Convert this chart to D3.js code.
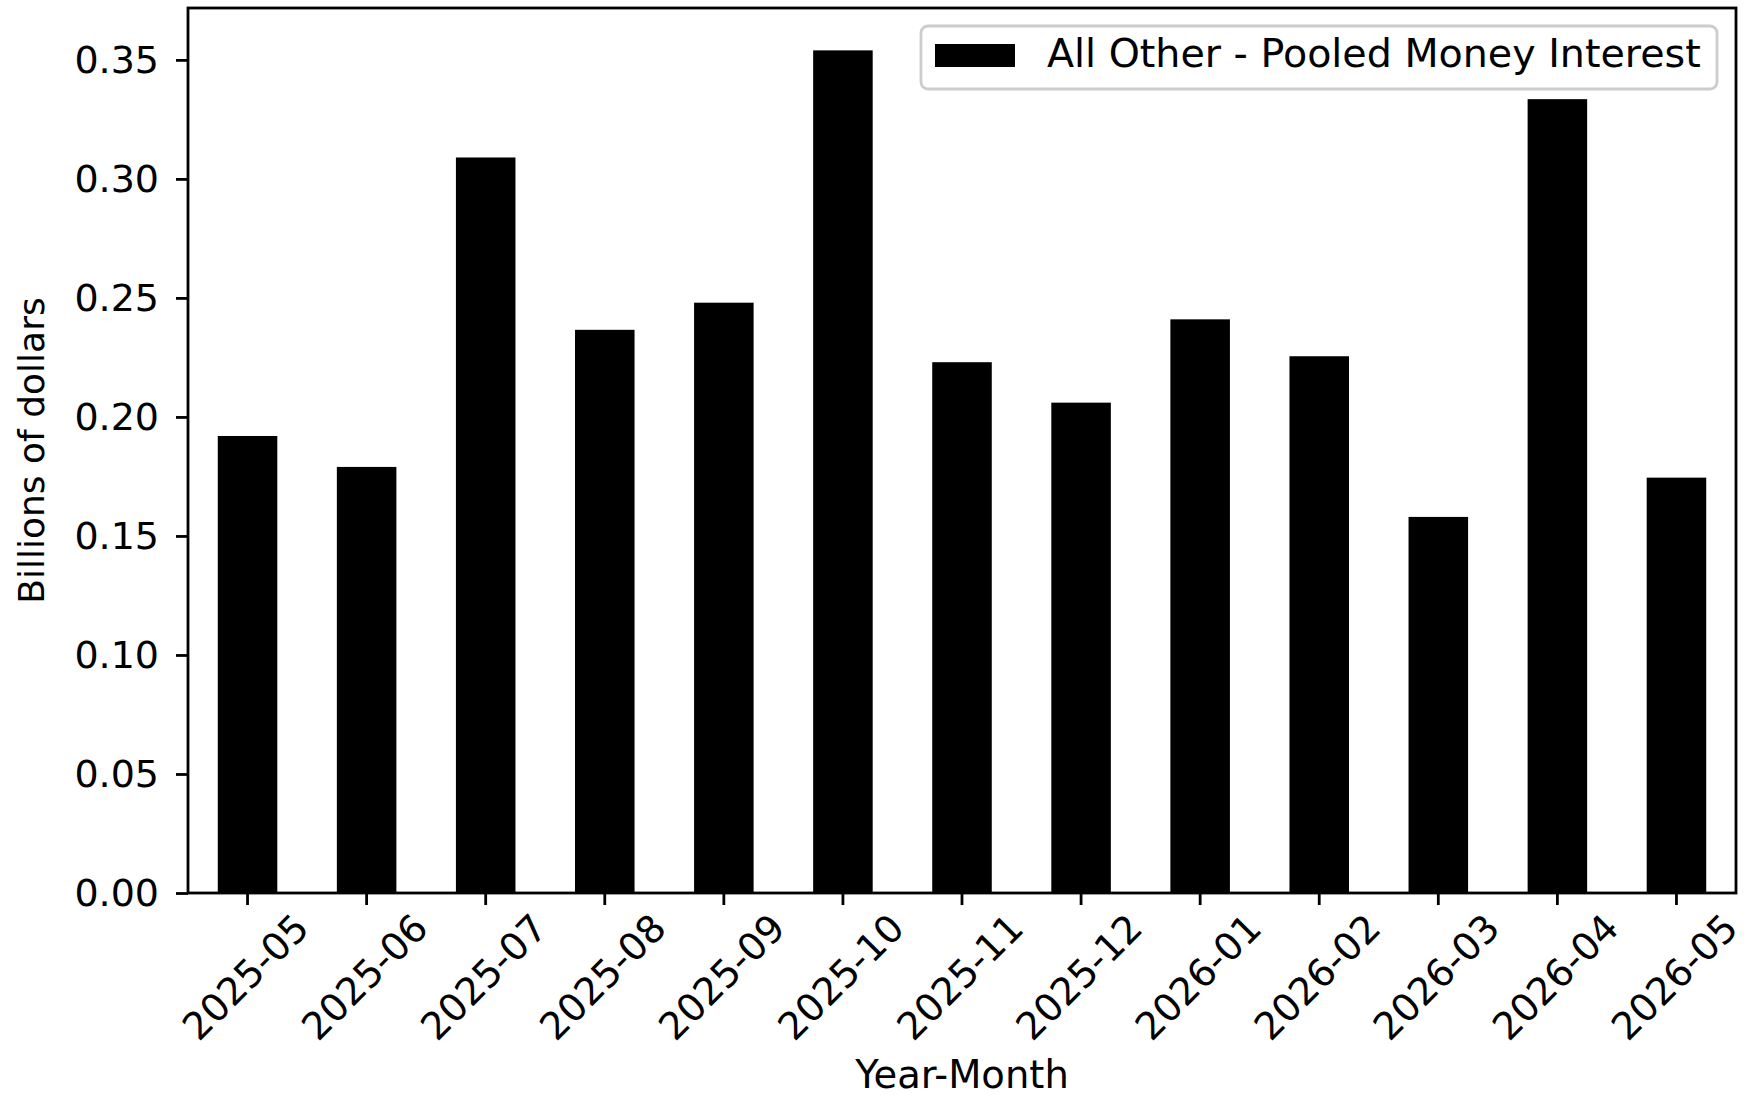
<!DOCTYPE html>
<html>
<head>
<meta charset="utf-8">
<script src="https://cdn.jsdelivr.net/npm/d3@7"></script>
<style>
  html, body { margin: 0; padding: 0; background: #fff; }
  svg { display: block; }
  text { font-family: "DejaVu Sans", sans-serif; fill: #000; }
</style>
</head>
<body>
<svg id="chart" width="1752" height="1096"></svg>
<script>
const categories = ["2025-05","2025-06","2025-07","2025-08","2025-09","2025-10","2025-11","2025-12","2026-01","2026-02","2026-03","2026-04","2026-05"];
const values = [0.192, 0.179, 0.309, 0.2366, 0.248, 0.354, 0.223, 0.206, 0.241, 0.2255, 0.158, 0.3335, 0.1745];
const yTicks = [0.00, 0.05, 0.10, 0.15, 0.20, 0.25, 0.30, 0.35];
const seriesName = "All Other - Pooled Money Interest";
const xTitle = "Year-Month";
const yTitle = "Billions of dollars";

const svg = d3.select("#chart");
const L = 188, R = 1736, T = 8, B = 893;
const yMax = 0.3718;

const x = d3.scaleBand().domain(categories).range([L, R]).paddingInner(0.5).paddingOuter(0.25);
const y = d3.scaleLinear().domain([0, yMax]).range([B, T]);

// bars
svg.append("g").selectAll("rect").data(values).join("rect")
  .attr("x", (d, i) => x(categories[i]))
  .attr("y", d => y(d))
  .attr("width", x.bandwidth())
  .attr("height", d => y(0) - y(d))
  .attr("fill", "#000");

// y axis
const yAxis = d3.axisLeft(y).tickValues(yTicks).tickFormat(d3.format(".2f")).tickSize(12).tickPadding(17);
const gy = svg.append("g").attr("transform", `translate(${L},0)`).call(yAxis);
gy.select(".domain").remove();
gy.selectAll(".tick line").attr("stroke", "#000").attr("stroke-width", 2.8);
gy.selectAll(".tick text").attr("font-size", 38).attr("font-family", "DejaVu Sans").attr("dy", "0.34em");

// x axis
const xAxis = d3.axisBottom(x).tickSize(12).tickPadding(0);
const gx = svg.append("g").attr("transform", `translate(0,${B})`).call(xAxis);
gx.select(".domain").remove();
gx.selectAll(".tick line").attr("stroke", "#000").attr("stroke-width", 2.8);
gx.selectAll(".tick text")
  .attr("font-size", 38).attr("font-family", "DejaVu Sans")
  .attr("text-anchor", "middle")
  .attr("y", 0).attr("dy", "0.35em")
  .attr("transform", "translate(-2,84) rotate(-45)");

// spines
svg.append("rect").attr("x", L).attr("y", T).attr("width", R - L).attr("height", B - T)
  .attr("fill", "none").attr("stroke", "#000").attr("stroke-width", 2.8);

// axis titles
svg.append("text").attr("x", (L + R) / 2).attr("y", 1088).attr("text-anchor", "middle")
  .attr("font-size", 38.5).text(xTitle);
svg.append("text").attr("transform", `translate(31,${(T + B) / 2}) rotate(-90)`)
  .attr("text-anchor", "middle").attr("dy", "0.35em").attr("font-size", 36).text(yTitle);

// legend
const lg = svg.append("g");
lg.append("rect").attr("x", 921).attr("y", 26).attr("width", 796).attr("height", 63)
  .attr("rx", 7).attr("ry", 7).attr("fill", "#fff").attr("fill-opacity", 0.8)
  .attr("stroke", "#cccccc").attr("stroke-width", 2.8);
lg.append("rect").attr("x", 935).attr("y", 44).attr("width", 80).attr("height", 23).attr("fill", "#000");
lg.append("text").attr("x", 1047).attr("y", 67).attr("font-size", 39.6).text(seriesName);
</script>
</body>
</html>
